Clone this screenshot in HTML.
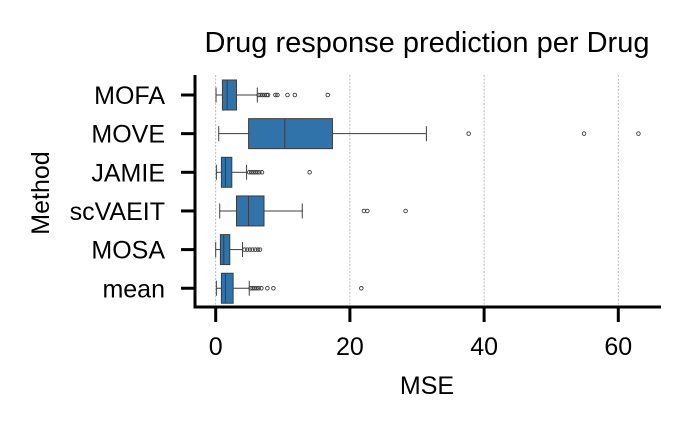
<!DOCTYPE html>
<html><head><meta charset="utf-8"><style>
body{margin:0;background:#fff;}
svg text{font-family:"Liberation Sans",Arial,sans-serif;fill:#000;}
</style></head><body>
<svg id="chart" width="689" height="429" viewBox="0 0 689 429" xmlns="http://www.w3.org/2000/svg">
<rect width="689" height="429" fill="#fff"/>
<text x="427" y="52" font-size="29" text-anchor="middle">Drug response prediction per Drug</text>
<g id="grid"></g>
<g id="boxes"></g>
<g id="axes"></g>
<text x="427" y="394" font-size="25" text-anchor="middle">MSE</text>
<text x="0" y="0" font-size="25" text-anchor="middle" transform="translate(49,193) rotate(-90)">Method</text>
</svg>
<script>
const categories = ["MOFA","MOVE","JAMIE","scVAEIT","MOSA","mean"];
const whiskerLow = [0.05,0.45,0.1,0.6,0.0,0.1];
const q1 = [1.0,4.9,0.85,3.1,0.7,0.85];
const medians = [1.7,10.3,1.45,4.9,1.2,1.45];
const q3 = [3.1,17.4,2.4,7.2,2.1,2.6];
const whiskerHigh = [6.2,31.4,4.6,12.9,4.0,5.0];
const outliers = [
  [6.4,6.7,7.0,7.3,7.6,7.8,8.9,9.2,10.7,11.8,16.7],
  [37.7,54.9,63.0],
  [5.0,5.3,5.6,5.9,6.2,6.5,6.9,14.0],
  [22.1,22.6,28.3],
  [4.3,4.7,5.1,5.5,5.9,6.3,6.6],
  [5.2,5.5,5.8,6.1,6.4,6.8,7.7,8.6,21.7]
];
const xTicks = [0,20,40,60];
const xTickLabels = ["0","20","40","60"];

const NS="http://www.w3.org/2000/svg";
const X0=215.7, PX=6.71;
function xs(v){return X0+v*PX;}
const Y0=95, DY=38.65;
function ys(i){return Y0+i*DY;}
function mk(tag,attrs,parent){const e=document.createElementNS(NS,tag);for(const k in attrs)e.setAttribute(k,attrs[k]);parent.appendChild(e);return e;}
const gridG=document.getElementById('grid'), boxesG=document.getElementById('boxes'), axesG=document.getElementById('axes');
const plotTop=75, plotBottom=307, plotLeft=195, plotRight=661;
xTicks.forEach((t,i)=>{
  const g=mk('line',{x1:xs(t),x2:xs(t),y1:plotTop,y2:plotBottom,stroke:'#aaa','stroke-width':0.8,'stroke-dasharray':'2,1.5'},gridG);
  
  
  const tk=mk('line',{x1:xs(t),x2:xs(t),y1:plotBottom,y2:plotBottom+15,stroke:'#000','stroke-width':3},axesG);
  
  
  const tl=mk('text',{x:xs(t),y:355,'font-size':25,'text-anchor':'middle'},axesG);
  tl.textContent=xTickLabels[i];
  
  
});
const bh=30;
categories.forEach((c,i)=>{
  const y=ys(i);
  const g=mk('g',{},boxesG);
  
  
  const col='#3d3d3d';
  mk('line',{x1:xs(whiskerLow[i]),x2:xs(q1[i]),y1:y,y2:y,stroke:col,'stroke-width':1},g);
  mk('line',{x1:xs(q3[i]),x2:xs(whiskerHigh[i]),y1:y,y2:y,stroke:col,'stroke-width':1},g);
  mk('line',{x1:xs(whiskerLow[i]),x2:xs(whiskerLow[i]),y1:y-7.5,y2:y+7.5,stroke:col,'stroke-width':1},g);
  mk('line',{x1:xs(whiskerHigh[i]),x2:xs(whiskerHigh[i]),y1:y-7.5,y2:y+7.5,stroke:col,'stroke-width':1},g);
  mk('rect',{x:xs(q1[i]),y:y-bh/2,width:xs(q3[i])-xs(q1[i]),height:bh,fill:'#2f73aa',stroke:col,'stroke-width':1},g);
  mk('line',{x1:xs(medians[i]),x2:xs(medians[i]),y1:y-bh/2,y2:y+bh/2,stroke:col,'stroke-width':1},g);
  outliers[i].forEach(o=>{
    const p=mk('circle',{cx:xs(o),cy:y,r:1.8,fill:'none',stroke:col,'stroke-width':0.9},g);
    
    
  });
  const tk=mk('line',{x1:plotLeft-14,x2:plotLeft,y1:y,y2:y,stroke:'#000','stroke-width':3},axesG);
  
  
  const tl=mk('text',{x:165,y:y+9,'font-size':25,'text-anchor':'end'},axesG);
  tl.textContent=c;
  
  
});
const ya=mk('line',{x1:plotLeft,x2:plotLeft,y1:plotTop,y2:plotBottom+1.5,stroke:'#000','stroke-width':3},axesG);


const xa=mk('line',{x1:plotLeft-1.5,x2:plotRight,y1:plotBottom,y2:plotBottom,stroke:'#000','stroke-width':3},axesG);


</script>
</body></html>
